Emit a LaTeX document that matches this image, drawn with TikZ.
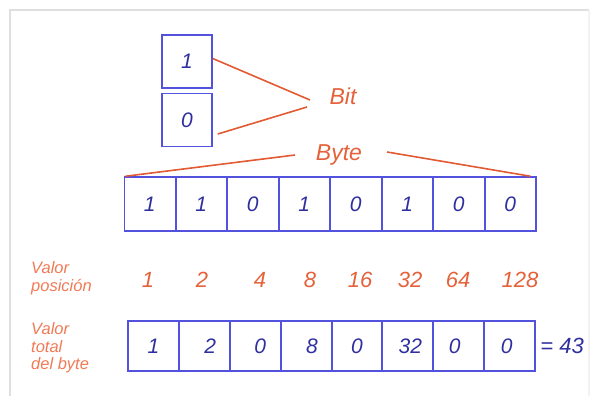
\documentclass[tikz,border=0pt]{standalone}
\usepackage{fontspec}
\setmainfont{Liberation Sans}
\usetikzlibrary{matrix,positioning}
\definecolor{cellblue}{HTML}{5252DE}
\definecolor{digitblue}{HTML}{2F2FA0}
\definecolor{numorange}{HTML}{E4613A}
\definecolor{tagorange}{HTML}{F07A55}
\definecolor{linkorange}{HTML}{E25A32}

\begin{document}
\begin{tikzpicture}[x=1pt, y=-1pt,
    cell/.style={minimum width=51pt, minimum height=54pt, inner sep=0pt, draw=cellblue, line width=1.5pt, text=digitblue, font=\fontsize{21}{21}\selectfont\itshape},
    sumcell/.style={cell, minimum width=50.4pt, minimum height=50pt},
    num/.style={text=numorange, font=\fontsize{22}{22}\selectfont\itshape},
    tag/.style={text=tagorange, align=left, inner sep=0pt, font=\fontsize{16.5}{17.5}\selectfont\itshape},
    bigtag/.style={text=numorange, font=\fontsize{23}{23}\selectfont\itshape},
    link/.style={draw=linkorange, line width=1.6pt}
]
\useasboundingbox (0,0) rectangle (593,396);

% Frame
\draw[gray!25, line width=2pt] (10,396) -- (10,10) -- (589,10);
\draw[gray!10, line width=1.5pt] (589,10) -- (589,396);

% Single bits
\node[cell, minimum width=50pt, minimum height=53pt] (bit1) at (187,61.5) {1};
\node[cell, minimum width=50pt, minimum height=53pt, below=4pt of bit1] (bit0) {0};
\node[bigtag] (bittxt) at (343,96) {Bit};
\coordinate (bitA) at (310,100);
\coordinate (bitB) at (307,107);
\draw[link] ([yshift=3pt]bit1.east) -- (bitA);
\draw[link] ([xshift=5pt, yshift=-14pt]bit0.east) -- (bitB);

% Byte row
\matrix (byte) [matrix of nodes, nodes={cell}, column sep=-1pt] at (330,204) {
    1 & 1 & 0 & 1 & 0 & 1 & 0 & 0 \\
};
\node[bigtag] (bytetxt) at (339,155) {Byte};
\coordinate (byteA) at (295,155);
\coordinate (byteB) at (387,152);
\draw[link] ([xshift=2pt]byte-1-1.north west) -- (byteA);
\draw[link] (byteB) -- ([xshift=-6pt]byte-1-8.north east);

% Position values
\node[tag, anchor=west] (posname) at (31,278) {Valor\\posición};
\foreach \val/\x in {1/148, 2/202, 4/260, 8/310, 16/360, 32/410, 64/458, 128/520}
    \node[num] (pos\val) at (\x,280) {\val};

% Total value of the byte
\node[tag, anchor=west] (totname) at (31,348) {Valor\\total\\del byte};
\matrix (total) [matrix of nodes, nodes={sumcell}, column sep=-1pt] at (331.5,346) {
    1 & \hspace{12pt}2 & \hspace{10pt}0 & \hspace{12pt}8 & 0 & \hspace{5pt}32 & \hspace{-8pt}0 & \hspace{-6pt}0 \\
};
\node[right=1pt of total, inner sep=0pt, text=digitblue, font=\fontsize{22}{22}\selectfont\itshape] (sum) {= 43};

\end{tikzpicture}
\end{document}
